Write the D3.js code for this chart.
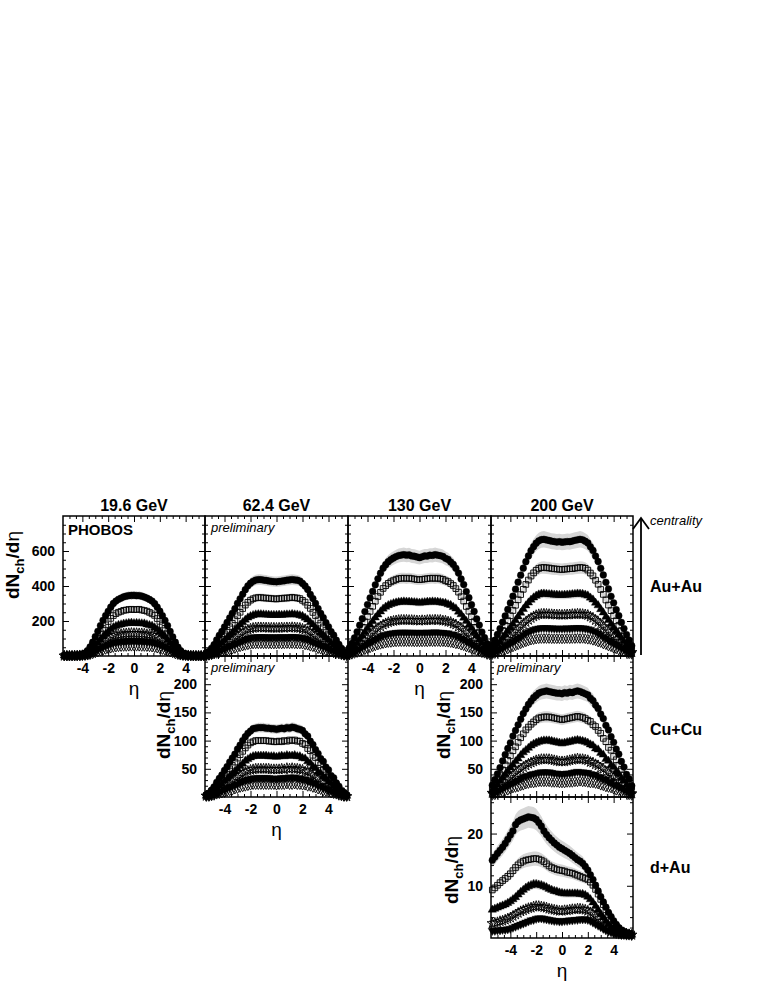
<!DOCTYPE html>
<html>
<head>
<meta charset="utf-8">
<script src="https://cdn.jsdelivr.net/npm/d3@7"></script>
<style>
body { margin: 0; background: #fff; }
svg { font-family: "Liberation Sans", Arial, Helvetica, sans-serif; }
</style>
</head>
<body>
<div id="chart"></div>
<script>
// pseudorapidity bins
const eta = [-5.4,-5.2,-5.0,-4.8,-4.6,-4.4,-4.2,-4.0,-3.8,-3.6,-3.4,-3.2,-3.0,-2.8,-2.6,-2.4,-2.2,-2.0,-1.8,-1.6,-1.4,-1.2,-1.0,-0.8,-0.6,-0.4,-0.2,0,
  0.2,0.4,0.6,0.8,1.0,1.2,1.4,1.6,1.8,2.0,2.2,2.4,2.6,2.8,3.0,3.2,3.4,3.6,3.8,4.0,4.2,4.4,4.6,4.8,5.0,5.2,5.4];

// dNch/deta, centrality bins from most central to peripheral
const auau19 = [
  [3,3,3,3,3,4,7,10,17,31,52,79,110,141,173,204,231,255,279,300,314,324,331,338,342,345,346,347,345,345,342,337,331,323,314,299,279,256,230,203,173,140,109,79,51,31,17,10,7,4,3,3,3,3,3],
  [2,2,2,2,3,3,5,8,13,24,40,61,85,109,133,157,178,197,215,231,242,250,255,261,263,266,267,265,266,267,263,260,256,249,241,232,214,198,177,158,132,110,84,62,39,25,13,8,5,3,3,2,2,2,2],
  [2,2,2,2,2,2,4,6,9,17,28,43,60,77,94,111,126,139,152,164,171,177,180,184,186,188,189,187,188,187,186,185,180,176,172,163,153,139,125,112,93,77,61,42,28,17,9,6,4,2,2,2,2,2,2],
  [1,1,1,1,2,2,3,4,7,12,20,30,42,53,65,77,87,96,105,113,118,122,125,127,129,130,131,130,130,129,129,127,124,122,119,112,105,97,86,77,66,53,41,30,20,12,7,4,3,2,2,1,1,1,1],
  [1,1,1,1,1,1,2,3,4,8,13,20,28,36,44,51,58,64,70,76,79,82,84,85,86,87,87,88,87,86,86,85,83,82,79,75,71,64,58,50,44,36,28,20,13,8,4,3,2,1,1,1,1,1,1],
  [1,1,1,1,1,1,1,2,3,5,8,13,18,23,28,33,38,41,45,49,51,53,54,55,55,56,56,57,56,56,55,55,54,53,51,48,45,42,37,33,28,23,18,12,8,5,3,2,1,1,1,1,1,1,1]
];
const auau62 = [
  [13,26,44,65,92,118,140,166,192,218,244,270,301,327,353,379,401,416,427,434,436,436,434,432,429,427,425,424,426,428,430,433,435,437,435,433,428,415,400,380,352,328,300,271,243,219,191,167,139,119,91,66,43,27,12],
  [10,20,33,50,70,90,107,127,147,167,187,207,230,250,271,291,307,319,327,332,334,334,332,331,330,328,327,326,328,329,331,331,333,335,333,331,328,318,308,290,272,249,231,206,188,166,148,126,108,89,71,49,34,19,11],
  [7,14,24,36,50,64,76,90,105,119,133,148,164,179,193,207,219,227,233,237,238,238,237,236,235,234,234,234,235,234,236,237,237,239,237,236,232,228,218,208,192,180,163,149,132,120,104,91,75,65,49,37,23,15,6],
  [5,10,16,24,34,44,52,62,72,82,91,101,112,122,132,142,150,156,160,162,163,163,162,162,161,161,161,160,161,162,161,163,162,164,163,161,160,155,151,141,133,121,113,100,92,81,73,61,53,43,35,23,17,9,5],
  [3,7,11,16,23,29,35,41,48,55,61,68,75,82,88,95,100,104,107,108,109,109,109,108,108,108,108,107,108,109,108,108,109,110,109,108,107,103,100,96,88,81,75,69,60,55,49,40,35,30,22,16,12,6,3],
  [2,4,7,11,15,19,22,27,31,35,39,43,48,53,57,61,64,67,69,70,70,70,70,70,70,69,69,69,70,69,70,71,70,71,70,69,69,68,64,62,56,53,49,42,39,36,30,27,23,18,15,11,7,4,2]
];
const auau130 = [
  [46,72,104,138,176,213,254,294,332,369,407,441,473,502,522,539,551,560,568,574,577,579,576,578,572,570,566,562,567,572,571,576,575,579,576,573,569,558,552,537,523,501,474,440,408,368,333,293,255,212,177,137,105,71,47],
  [36,55,80,107,135,164,195,226,255,284,313,340,364,386,402,415,424,431,437,442,444,445,443,445,442,440,437,436,438,440,442,444,445,443,445,441,438,430,425,414,403,385,365,339,314,283,256,225,196,163,136,106,81,54,37],
  [25,39,56,74,95,115,136,158,178,198,219,237,254,270,281,290,296,301,305,308,310,311,310,309,308,307,306,304,306,307,309,309,311,310,309,307,304,302,295,291,280,271,253,238,218,199,177,159,135,116,94,75,55,40,24],
  [17,26,37,49,63,76,91,105,118,132,145,158,169,179,186,193,197,200,203,205,206,206,206,205,205,204,203,202,204,203,205,206,205,207,205,206,202,201,196,194,185,180,168,159,144,133,117,106,90,77,62,50,36,27,16],
  [11,17,24,32,41,50,59,69,78,86,95,103,111,117,122,126,129,131,133,134,135,135,135,134,134,134,133,133,134,133,135,134,135,136,135,134,133,131,130,125,123,116,112,102,96,85,79,68,60,49,42,31,25,16,12],
  [7,10,15,20,25,30,36,42,47,53,58,63,67,71,74,77,78,80,81,82,82,82,82,82,82,81,81,81,81,82,81,83,82,82,83,81,82,80,79,77,74,70,68,62,59,52,48,41,37,29,26,19,16,9,7]
];
const auau200 = [
  [60,90,123,156,193,229,266,303,342,382,422,462,502,539,572,602,625,645,658,665,667,663,660,656,654,651,653,650,652,654,653,657,661,664,667,664,656,646,624,603,571,540,501,463,421,383,341,304,265,230,192,157,122,91,59],
  [45,68,93,119,146,174,202,230,260,290,321,351,381,409,434,457,475,490,500,505,506,504,503,500,498,497,495,494,496,497,499,499,502,504,506,505,501,491,474,458,433,410,380,352,320,291,259,231,201,175,145,120,92,69,44],
  [32,48,66,83,103,122,142,162,183,204,225,247,268,288,305,321,334,344,351,355,356,354,353,352,350,349,348,348,349,350,351,353,354,356,355,354,350,345,333,322,304,289,267,248,224,205,182,163,141,123,102,84,65,49,31],
  [22,32,44,56,70,83,96,109,124,138,152,167,181,194,206,217,226,233,238,240,241,240,239,238,237,236,236,235,236,237,237,239,239,241,240,239,237,234,225,218,205,195,180,168,151,139,123,110,95,84,69,57,43,33,21],
  [14,22,30,38,46,55,64,73,82,92,102,111,121,130,138,145,150,155,158,160,160,160,159,159,158,158,158,157,158,159,158,159,160,161,160,159,158,154,151,144,139,129,122,110,103,91,83,72,65,54,47,37,31,21,15],
  [9,14,19,24,29,35,40,46,52,58,64,70,76,81,86,91,94,97,99,100,100,100,100,99,99,99,99,98,99,100,99,100,100,101,100,101,99,96,95,90,87,80,77,69,65,57,53,45,41,34,30,23,20,13,10]
];
const cucu62 = [
  [4,7,12,18,26,33,39,47,54,62,69,76,85,92,100,107,113,117,121,122,123,123,123,122,122,121,121,120,121,122,121,123,122,124,123,121,120,118,112,108,99,93,84,77,68,63,53,48,38,34,25,19,11,8,3],
  [3,6,10,15,21,27,32,38,44,50,56,62,69,75,81,87,92,96,98,100,100,100,100,100,99,99,98,98,99,98,100,99,101,100,101,99,99,95,93,86,82,74,70,61,57,49,45,37,33,26,22,14,11,5,3],
  [2,4,7,11,15,20,23,28,32,37,41,45,50,55,59,64,67,70,72,73,73,73,73,73,72,72,72,71,72,73,72,74,73,73,74,72,72,69,68,63,60,54,51,44,42,36,33,27,24,19,16,10,8,4,2],
  [2,3,5,8,11,14,16,19,22,25,28,31,35,38,41,44,46,48,49,50,50,50,50,50,50,49,49,49,49,50,49,51,50,51,50,50,49,48,45,45,40,38,34,32,27,25,21,20,15,14,10,8,5,3,1],
  [1,2,3,5,7,9,11,13,15,17,19,21,23,26,28,30,31,32,33,34,34,34,34,34,34,33,33,33,33,34,34,34,35,34,35,34,33,32,31,29,28,25,24,20,19,16,15,12,11,8,7,5,3,2,1],
  [1,1,2,3,5,6,7,8,10,11,12,14,15,17,18,19,20,21,22,22,22,22,22,22,22,22,22,21,22,22,22,23,22,22,23,22,22,21,21,19,19,17,16,14,13,11,10,9,7,6,5,3,2,1,1]
];
const cucu200 = [
  [21,31,41,52,64,75,86,96,108,118,128,138,148,156,164,170,176,180,184,186,187,188,187,186,185,184,184,183,185,184,186,185,187,188,187,185,183,181,175,171,163,157,147,139,127,119,107,97,85,76,63,53,40,32,20],
  [16,23,31,40,48,57,65,73,82,89,97,105,112,119,124,129,133,137,140,141,142,142,142,141,140,139,138,137,138,139,140,141,142,143,142,141,139,136,134,128,125,118,113,104,98,88,83,72,66,56,49,39,32,22,17],
  [11,17,22,28,34,40,46,52,57,63,68,74,79,83,87,91,94,96,98,99,100,100,100,99,98,97,96,95,96,97,98,99,100,101,100,99,98,96,93,91,86,84,78,75,67,64,56,53,45,41,33,29,21,18,10],
  [7,11,15,19,23,27,31,35,39,42,46,50,53,56,59,61,63,65,66,67,67,67,67,66,65,64,63,63,63,64,65,66,67,68,67,67,66,65,62,61,58,56,52,50,45,43,38,35,30,28,22,20,14,12,6],
  [5,7,10,12,15,18,20,23,25,28,30,33,35,37,38,40,41,42,43,44,44,44,44,43,42,42,41,41,41,42,42,43,44,45,44,44,43,43,41,40,39,36,35,32,31,27,26,22,21,17,16,12,11,7,5],
  [3,4,6,8,9,11,12,14,16,17,18,20,21,23,24,25,25,26,27,27,27,27,27,26,26,26,25,25,25,26,26,26,27,27,28,27,27,26,25,25,24,23,21,20,18,17,16,14,12,11,9,8,6,4,3]
];
const dau200 = [
  [14.9,15.5,16.2,16.8,17.4,18.1,18.9,19.7,20.5,21.7,22.3,22.6,22.8,23.0,23.2,23.1,23.0,22.7,22.1,21.4,20.5,19.8,19.2,18.7,18.2,17.8,17.4,17.1,16.8,16.5,16.2,15.8,15.4,15.0,14.7,14.3,13.7,13.0,12.1,11.2,10.1,9.0,7.9,6.9,5.9,4.9,4.1,3.3,2.6,2.0,1.5,1.2,0.9,0.7,0.6],
  [9.2,9.6,10.1,10.6,11.0,11.4,11.8,12.3,12.9,13.5,14.0,14.4,14.7,14.9,15.0,15.1,15.2,15.2,15.1,14.9,14.6,14.2,13.8,13.5,13.3,13.1,13.0,12.9,12.8,12.6,12.5,12.4,12.2,12.0,11.8,11.6,11.4,11.2,10.7,10.1,9.3,8.4,7.4,6.4,5.4,4.5,3.6,2.9,2.3,1.8,1.5,1.2,1.0,0.9,0.8],
  [5.4,5.6,5.8,6.0,6.2,6.4,6.7,7.0,7.4,7.8,8.3,8.8,9.2,9.6,9.9,10.1,10.3,10.3,10.2,10.1,9.9,9.7,9.4,9.2,9.0,8.9,8.7,8.6,8.5,8.5,8.5,8.5,8.5,8.5,8.4,8.4,8.2,7.9,7.4,6.8,6.1,5.4,4.6,3.9,3.2,2.6,2.1,1.7,1.4,1.2,1.0,0.9,0.8,0.7,0.6],
  [2.8,2.9,3.0,3.2,3.3,3.5,3.7,3.9,4.2,4.5,4.8,5.1,5.3,5.5,5.7,5.8,6.0,6.1,6.1,6.0,5.9,5.8,5.6,5.5,5.4,5.3,5.2,5.2,5.3,5.3,5.4,5.5,5.5,5.6,5.6,5.5,5.4,5.2,4.9,4.5,4.1,3.7,3.2,2.7,2.3,1.9,1.6,1.4,1.2,1.1,1.0,0.9,0.8,0.7,0.6],
  [1.4,1.4,1.5,1.5,1.6,1.6,1.7,1.8,2.0,2.2,2.4,2.6,2.8,3.0,3.2,3.4,3.5,3.7,3.8,3.8,3.7,3.6,3.5,3.4,3.3,3.3,3.2,3.2,3.3,3.3,3.4,3.4,3.5,3.5,3.6,3.6,3.6,3.5,3.3,3.0,2.7,2.4,2.1,1.8,1.5,1.3,1.1,0.9,0.8,0.7,0.6,0.6,0.5,0.5,0.4]
];

const energies = ["19.6 GeV", "62.4 GeV", "130 GeV", "200 GeV"];
const systems = ["Au+Au", "Cu+Cu", "d+Au"];
const etaTicks = [-4, -2, 0, 2, 4];
const auauTicks = [200, 400, 600];
const cucuTicks = [50, 100, 150, 200];
const dauTicks = [10, 20];

const W = 763, H = 987;
const svg = d3.select("#chart").append("svg")
  .attr("width", W)
  .attr("height", H);

// panel grid: columns and rows
const colX = [63, 205, 348, 491, 633];
const rowY = [516, 656, 797, 938];

const panels = [
  {data: auau19,  col: 0, row: 0, ymax: 800, ticks: auauTicks, minor: 50, yLab: true,  xLab: true},
  {data: auau62,  col: 1, row: 0, ymax: 800, ticks: auauTicks, minor: 50, pre: true},
  {data: auau130, col: 2, row: 0, ymax: 800, ticks: auauTicks, minor: 50, xLab: true},
  {data: auau200, col: 3, row: 0, ymax: 800, ticks: auauTicks, minor: 50},
  {data: cucu62,  col: 1, row: 1, ymax: 250, ticks: cucuTicks, minor: 10, yLab: true, xLab: true, pre: true},
  {data: cucu200, col: 3, row: 1, ymax: 250, ticks: cucuTicks, minor: 10, yLab: true, pre: true},
  {data: dau200,  col: 3, row: 2, ymax: 27,  ticks: dauTicks,  minor: 2,  yLab: true, xLab: true, dau: true}
];

// marker styles per centrality bin
const markers = [
  {type: d3.symbolCircle,   size: 36, fill: true},
  {type: d3.symbolSquare,   size: 32, fill: false},
  {type: d3.symbolTriangle, size: 30, fill: true},
  {type: d3.symbolStar,     size: 34, fill: false},
  {type: d3.symbolTriangle, size: 30, fill: true, rot: 180},
  {type: d3.symbolDiamond,  size: 28, fill: false}
];

const minorEta = d3.range(-5, 5.01, 0.5).filter(v => Math.abs(v % 2) > 1e-6);

panels.forEach((p, pi) => {
  const x0 = colX[p.col], x1 = colX[p.col + 1];
  const y0 = rowY[p.row], y1 = rowY[p.row + 1];

  const x = d3.scaleLinear().domain([-5.5, 5.5]).range([x0, x1]);
  const y = d3.scaleLinear().domain([0, p.ymax]).range([y1, y0]);

  const g = svg.append("g").attr("class", "panel");

  svg.append("clipPath").attr("id", "clip" + pi)
    .append("rect")
    .attr("x", x0).attr("y", y0)
    .attr("width", x1 - x0).attr("height", y1 - y0);

  // systematic error bands
  const frac = p.dau ? 0.09 : 0.07;
  const area = d3.area()
    .x((d, i) => x(eta[i]))
    .y0(d => y(Math.max(0, d * (1 - frac))))
    .y1(d => y(d * (1 + frac)));

  g.append("g").attr("clip-path", `url(#clip${pi})`)
    .selectAll("path.band")
    .data(p.data)
    .enter()
    .append("path")
    .attr("class", "band")
    .attr("d", area)
    .style("fill", "#d6d6d6");

  // data points
  p.data.forEach((series, si) => {
    const m = markers[si];
    const sym = d3.symbol().type(m.type).size(m.size);
    g.append("g").selectAll("path.pt")
      .data(series)
      .enter()
      .append("path")
      .attr("class", "pt")
      .attr("transform", (d, i) => `translate(${x(eta[i])},${y(d)})` + (m.rot ? ` rotate(${m.rot})` : ""))
      .attr("d", sym)
      .style("fill", m.fill ? "#000" : "none")
      .style("stroke", "#000")
      .style("stroke-width", m.fill ? 0.4 : 0.9);
  });

  // axes with inward ticks on all four sides
  const fmt = d => String(d);
  const yMinor = d3.range(p.minor, p.ymax, p.minor).filter(v => !p.ticks.includes(v));

  const addAxis = (axis, tx, ty) => {
    const a = g.append("g")
      .attr("transform", `translate(${tx},${ty})`)
      .call(axis);
    a.select(".domain").remove();
    a.selectAll("line").style("stroke", "#000").style("stroke-width", 1);
    a.selectAll("text")
      .style("font-family", '"Liberation Sans", Arial, sans-serif')
      .style("font-size", "14px")
      .style("font-weight", "bold")
      .style("fill", "#000");
    return a;
  };

  addAxis(d3.axisBottom(x).tickValues(etaTicks).tickSize(-6).tickPadding(7)
    .tickFormat(p.xLab ? fmt : ""), 0, y1);
  addAxis(d3.axisBottom(x).tickValues(minorEta).tickSize(-3).tickFormat(""), 0, y1);
  addAxis(d3.axisTop(x).tickValues(etaTicks).tickSize(-6).tickFormat(""), 0, y0);
  addAxis(d3.axisTop(x).tickValues(minorEta).tickSize(-3).tickFormat(""), 0, y0);

  addAxis(d3.axisLeft(y).tickValues(p.ticks).tickSize(-6).tickPadding(8)
    .tickFormat(p.yLab ? fmt : ""), x0, 0);
  addAxis(d3.axisLeft(y).tickValues(yMinor).tickSize(-3).tickFormat(""), x0, 0);
  addAxis(d3.axisRight(y).tickValues(p.ticks).tickSize(-6).tickFormat(""), x1, 0);
  addAxis(d3.axisRight(y).tickValues(yMinor).tickSize(-3).tickFormat(""), x1, 0);

  // frame
  g.append("rect")
    .attr("x", x0).attr("y", y0)
    .attr("width", x1 - x0).attr("height", y1 - y0)
    .style("fill", "none")
    .style("stroke", "#000")
    .style("stroke-width", 1.5);

  if (p.xLab) {
    g.append("text")
      .attr("x", (x0 + x1) / 2)
      .attr("y", y1 + 39)
      .style("text-anchor", "middle")
      .style("font-size", "19px")
      .text("η");
  }

  if (p.pre) {
    g.append("text")
      .attr("x", x0 + 6)
      .attr("y", y0 + 16)
      .style("font-size", "13px")
      .style("font-style", "italic")
      .text("preliminary");
  }
});

// y-axis titles
const yTitlePos = [[19, 565], [170, 725], [450, 725], [458, 870]];
yTitlePos.forEach(([tx, ty]) => {
  const t = svg.append("text")
    .attr("transform", `translate(${tx},${ty}) rotate(-90)`)
    .style("text-anchor", "middle")
    .style("font-size", "19px")
    .style("font-weight", "bold");
  t.append("tspan").text("dN");
  t.append("tspan").attr("dy", 5).style("font-size", "13px").text("ch");
  t.append("tspan").attr("dy", -5).text("/d");
  t.append("tspan").style("font-weight", "normal").text("η");
});

// energy titles
energies.forEach((e, i) => {
  svg.append("text")
    .attr("x", (colX[i] + colX[i + 1]) / 2)
    .attr("y", 511)
    .style("text-anchor", "middle")
    .style("font-size", "16px")
    .style("font-weight", "bold")
    .text(e);
});

svg.append("text")
  .attr("x", 68)
  .attr("y", 535)
  .style("font-size", "15px")
  .style("font-weight", "bold")
  .text("PHOBOS");

// centrality arrow
svg.append("line")
  .attr("x1", 641).attr("y1", 655)
  .attr("x2", 641).attr("y2", 519)
  .style("stroke", "#000")
  .style("stroke-width", 1.8);
svg.append("path")
  .attr("d", "M633,529 L641,518 L649,529")
  .style("fill", "none")
  .style("stroke", "#000")
  .style("stroke-width", 1.8);
svg.append("text")
  .attr("x", 650)
  .attr("y", 525)
  .style("font-size", "13px")
  .style("font-style", "italic")
  .text("centrality");

// collision systems
const sysY = [592, 735, 873];
systems.forEach((s, i) => {
  svg.append("text")
    .attr("x", 650)
    .attr("y", sysY[i])
    .style("font-size", "16px")
    .style("font-weight", "bold")
    .text(s);
});
</script>
</body>
</html>
